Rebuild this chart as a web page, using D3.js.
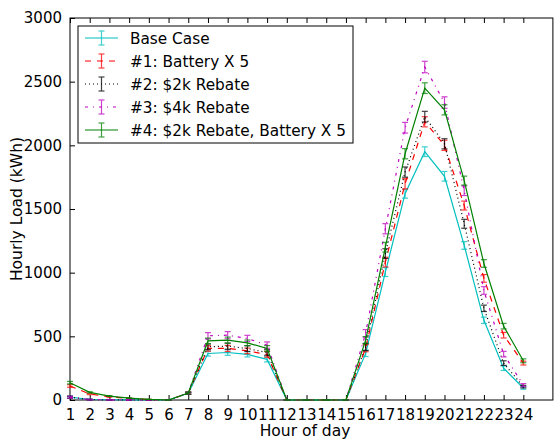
<!DOCTYPE html>
<html>
<head>
<meta charset="utf-8">
<script src="https://cdn.jsdelivr.net/npm/d3@7"></script>
<style>
  body { margin: 0; background: #fff; }
  text { font-family: "DejaVu Sans", sans-serif; }
</style>
</head>
<body>
<div id="chart"></div>
<script>
// hours of the day
const hours = d3.range(1, 25);
const yTicks = [0, 500, 1000, 1500, 2000, 2500, 3000];

// hourly load values (kWh)
const baseCase = [22, 4, 2, 1, 0, 0, 52, 365, 373, 358, 319, 0, 0, 0, 0, 366, 1005, 1620, 1950, 1757, 1214, 626, 250, 94];
const battery5 = [110, 47, 25, 12, 4, 0, 55, 405, 405, 386, 358, 0, 0, 0, 0, 407, 1083, 1698, 2185, 2000, 1527, 955, 509, 290];
const rebate2k = [22, 3, 1, 1, 0, 0, 52, 418, 423, 404, 373, 0, 0, 0, 0, 417, 1150, 1790, 2225, 2012, 1384, 720, 290, 105];
const rebate4k = [22, 3, 1, 1, 0, 0, 55, 504, 509, 483, 431, 0, 0, 0, 0, 523, 1345, 2138, 2615, 2336, 1644, 860, 360, 117];
const rebate2kBattery = [136, 60, 31, 15, 5, 0, 55, 464, 470, 449, 405, 0, 0, 0, 0, 470, 1200, 1934, 2449, 2279, 1723, 1072, 580, 308];

// error bar half widths (kWh)
const baseErr = [8, 3, 2, 1, 1, 0, 8, 20, 22, 20, 20, 0, 0, 0, 0, 25, 35, 35, 38, 38, 30, 25, 18, 10];
const batteryErr = [10, 5, 3, 2, 1, 0, 8, 22, 24, 22, 22, 0, 0, 0, 0, 28, 38, 40, 40, 40, 35, 30, 22, 15];
const rebate2kErr = [8, 3, 2, 1, 1, 0, 8, 22, 24, 22, 22, 0, 0, 0, 0, 28, 38, 40, 42, 40, 35, 25, 18, 10];
const rebate4kErr = [8, 3, 2, 1, 1, 0, 8, 25, 28, 25, 25, 0, 0, 0, 0, 30, 40, 42, 45, 45, 38, 30, 22, 12];
const comboErr = [10, 5, 3, 2, 1, 0, 8, 22, 24, 22, 22, 0, 0, 0, 0, 28, 38, 40, 42, 40, 35, 30, 22, 15];

const series = [
  { name: "Base Case", values: baseCase, err: baseErr, color: "#00bfbf", dash: null },
  { name: "#1: Battery X 5", values: battery5, err: batteryErr, color: "#ff0000", dash: "6,6" },
  { name: "#2: $2k Rebate", values: rebate2k, err: rebate2kErr, color: "#000000", dash: "1,3" },
  { name: "#3: $4k Rebate", values: rebate4k, err: rebate4kErr, color: "#bf00bf", dash: "3,5,1,5" },
  { name: "#4: $2k Rebate, Battery X 5", values: rebate2kBattery, err: comboErr, color: "#008000", dash: null }
];

const W = 558, H = 441;
const margin = { top: 18, right: 0, bottom: 41, left: 70 };
const height = H - margin.top - margin.bottom;

const svg = d3.select("#chart").append("svg")
  .attr("width", W).attr("height", H);

const g = svg.append("g").attr("transform", `translate(${margin.left},${margin.top})`);

const x = d3.scaleLinear().domain([1, 25.5]).range([0, 19.71 * 24.5]);
const y = d3.scaleLinear().domain([0, 3000]).range([height, 0]);

// axes: ticks point inward, like matplotlib classic
g.append("g")
  .attr("transform", `translate(0,${height})`)
  .call(d3.axisBottom(x).tickValues(hours).tickFormat(d3.format("d")).tickSizeInner(-5).tickSizeOuter(0).tickPadding(9))
  .call(a => a.select(".domain").remove());
g.append("g")
  .call(d3.axisTop(x).tickValues(hours).tickFormat("").tickSizeInner(-5).tickSizeOuter(0))
  .call(a => a.select(".domain").remove());
g.append("g")
  .call(d3.axisLeft(y).tickValues(yTicks).tickFormat(d3.format("d")).tickSizeInner(-5).tickSizeOuter(0).tickPadding(8))
  .call(a => a.select(".domain").remove());

g.selectAll(".tick text").attr("font-size", 15).attr("fill", "#000").attr("font-family", "DejaVu Sans");
g.selectAll(".tick line").attr("stroke", "#000");

// frame
g.append("rect")
  .attr("x", 0).attr("y", 0)
  .attr("width", x(25.5)).attr("height", height)
  .attr("fill", "none").attr("stroke", "#000").attr("stroke-width", 1);

const line = d3.line()
  .x((d, i) => x(hours[i]))
  .y(d => y(d));

series.forEach(s => {
  g.append("path")
    .attr("d", line(s.values))
    .attr("fill", "none")
    .attr("stroke", s.color)
    .attr("stroke-width", 1.2)
    .attr("stroke-dasharray", s.dash);

  const bars = g.append("g").attr("stroke", s.color).attr("stroke-width", 1.2).attr("opacity", 0.75);
  s.values.forEach((v, i) => {
    const cx = x(hours[i]);
    const y0 = y(v - s.err[i]), y1 = y(v + s.err[i]);
    bars.append("line").attr("x1", cx).attr("x2", cx).attr("y1", y0).attr("y2", y1);
    bars.append("line").attr("x1", cx - 3).attr("x2", cx + 3).attr("y1", y0).attr("y2", y0);
    bars.append("line").attr("x1", cx - 3).attr("x2", cx + 3).attr("y1", y1).attr("y2", y1);
  });
});

// axis labels
svg.append("text")
  .attr("x", margin.left + 235).attr("y", 436)
  .attr("text-anchor", "middle").attr("font-size", 15.5)
  .text("Hour of day");
svg.append("text")
  .attr("transform", `translate(22,${margin.top + height / 2}) rotate(-90)`)
  .attr("text-anchor", "middle").attr("font-size", 15.5)
  .text("Hourly Load (kWh)");

// legend
const legend = svg.append("g").attr("transform", "translate(78,26)");
legend.append("rect")
  .attr("width", 275).attr("height", 117)
  .attr("fill", "#fff").attr("stroke", "#000");

series.forEach((s, i) => {
  const row = legend.append("g").attr("transform", `translate(0,${12 + i * 23})`);
  row.append("line")
    .attr("x1", 7).attr("x2", 40).attr("y1", 0).attr("y2", 0)
    .attr("stroke", s.color).attr("stroke-width", 1.2)
    .attr("stroke-dasharray", s.dash);
  const eb = row.append("g").attr("stroke", s.color).attr("stroke-width", 1.2).attr("opacity", 0.75);
  eb.append("line").attr("x1", 23.5).attr("x2", 23.5).attr("y1", -7).attr("y2", 7);
  eb.append("line").attr("x1", 20.5).attr("x2", 26.5).attr("y1", -7).attr("y2", -7);
  eb.append("line").attr("x1", 20.5).attr("x2", 26.5).attr("y1", 7).attr("y2", 7);
  row.append("text")
    .attr("x", 52).attr("y", 5.5)
    .attr("font-size", 15.3)
    .text(s.name);
});
</script>
</body>
</html>
